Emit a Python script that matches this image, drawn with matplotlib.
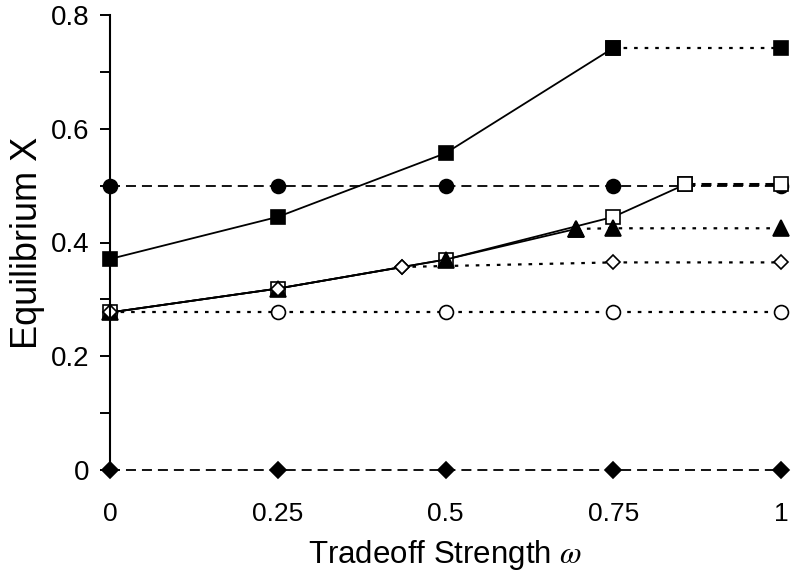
import matplotlib
matplotlib.use('Agg')
import matplotlib.pyplot as plt

plt.rcParams['font.family'] = ['Liberation Sans', 'DejaVu Sans']
plt.rcParams['mathtext.fontset'] = 'stix'
plt.rcParams['lines.scale_dashes'] = False

# tradeoff strength values
omega = [0, 0.25, 0.5, 0.75, 1]

# filled squares: solid rise, then flat (dotted)
sq_fill_x = [0, 0.25, 0.5, 0.75]
sq_fill_y = [0.371, 0.445, 0.557, 0.742]
sq_fill_flat_x = [0.75, 1]
sq_fill_flat_y = [0.742, 0.742]

# filled circles (dashed)
circ_fill_y = [0.5, 0.5, 0.5, 0.5, 0.5]

# open circles (dotted)
circ_open_y = [0.277, 0.277, 0.277, 0.277, 0.277]

# open squares: solid rise, then flat (dashed)
sq_open_x = [0, 0.25, 0.5, 0.75, 0.857]
sq_open_y = [0.277, 0.319, 0.370, 0.445, 0.502]
sq_open_flat_x = [0.857, 1]
sq_open_flat_y = [0.502, 0.502]

# filled triangles: solid rise, then flat (dotted)
tri_x = [0, 0.25, 0.5, 0.695]
tri_y = [0.277, 0.319, 0.370, 0.424]
tri_flat_x = [0.695, 0.75, 1]
tri_flat_y = [0.424, 0.425, 0.425]

# open diamonds: solid rise, then dotted
dia_x = [0, 0.25, 0.435]
dia_y = [0.277, 0.319, 0.357]
dia_flat_x = [0.435, 0.75, 1]
dia_flat_y = [0.357, 0.365, 0.365]

# filled diamonds at zero (dashed)
dia_zero_y = [0, 0, 0, 0, 0]

y_ticks = [0, 0.1, 0.2, 0.3, 0.4, 0.5, 0.6, 0.7, 0.8]
y_labels = ['0', '', '0.2', '', '0.4', '', '0.6', '', '0.8']
x_labels = ['0', '0.25', '0.5', '0.75', '1']

dashed = (0, (7.2, 4.3))
dotted = (0, (2.6, 5.0))
lw = 1.3

fig = plt.figure(figsize=(7.96, 5.86), dpi=100)
ax = fig.add_axes([110 / 796, 1 - 470 / 586, 671 / 796, 455 / 586])

kw = dict(color='black', clip_on=False, mec='black', mew=1.2)

ax.plot(omega, dia_zero_y, ls=dashed, lw=lw, marker='D', ms=8.5, mfc='black', **kw)
ax.plot(omega, circ_fill_y, ls=dashed, lw=lw, marker='o', ms=10, mfc='black', **kw)
ax.plot(sq_fill_x, sq_fill_y, ls='-', lw=lw, marker='s', ms=10, mfc='black', **kw)
ax.plot(sq_fill_flat_x, sq_fill_flat_y, ls=dotted, lw=1.6, marker='s', ms=10, mfc='black', **kw)
ax.plot(omega, circ_open_y, ls=dotted, lw=1.6, marker='o', ms=10, mfc='white', **kw)
ax.plot(sq_open_x, sq_open_y, ls='-', lw=lw, marker='s', ms=10, mfc='white', **kw)
ax.plot(sq_open_flat_x, sq_open_flat_y, ls=dashed, lw=2.2, color='black', clip_on=False)
ax.plot(sq_open_flat_x, sq_open_flat_y, ls='none', marker='s', ms=10, mfc='white',
        mec='black', mew=1.2, clip_on=False)
ax.plot(tri_x, tri_y, ls='-', lw=lw, marker='^', ms=11.5, mfc='black', **kw)
ax.plot(tri_flat_x, tri_flat_y, ls=dotted, lw=1.6, marker='^', ms=11.5, mfc='black', **kw)
ax.plot(dia_x, dia_y, ls='-', lw=lw, marker='D', ms=7.2, mfc='white', **kw)
ax.plot(dia_flat_x, dia_flat_y, ls=dotted, lw=1.6, marker='D', ms=7.2, mfc='white', **kw)

ax.set_xlim(0, 1)
ax.set_ylim(0, 0.8)

for s in ['top', 'right', 'bottom']:
    ax.spines[s].set_visible(False)
ax.spines['left'].set_linewidth(1.5)

ax.set_yticks(y_ticks)
ax.set_yticklabels(y_labels)
ax.set_xticks(omega)
ax.set_xticklabels(x_labels)
ax.tick_params(axis='y', direction='out', length=7, width=1.4, pad=8, labelsize=20)
ax.tick_params(axis='x', direction='out', length=6, width=1.4, pad=17, labelsize=19)

ax.set_ylabel('Equilibrium X', fontsize=26, labelpad=4)
ax.set_xlabel(r'Tradeoff Strength $\omega$', fontsize=22.5, labelpad=9)

fig.savefig('out.png', dpi=100)
